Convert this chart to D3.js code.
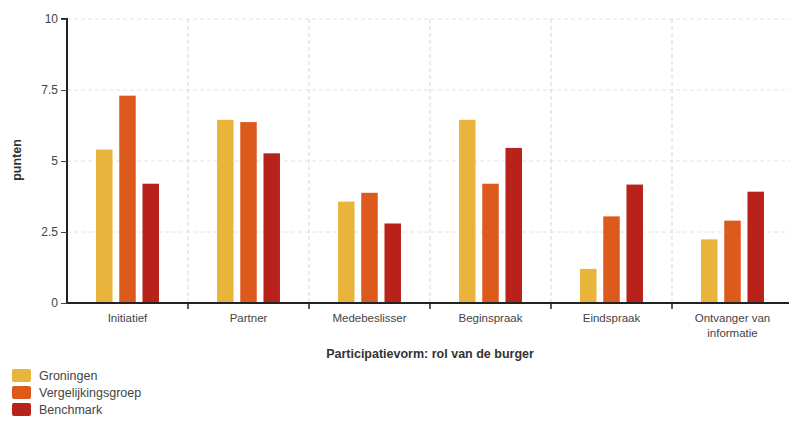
<!DOCTYPE html>
<html><head><meta charset="utf-8">
<script src="https://cdn.jsdelivr.net/npm/d3@7"></script>
<style>body{margin:0;background:#fff}svg{display:block;font-family:"Liberation Sans",Arial,sans-serif}</style>
</head><body><svg id="c" width="789" height="423"></svg>
<script>
const categories = ["Initiatief","Partner","Medebeslisser","Beginspraak","Eindspraak","Ontvanger van informatie"];
const seriesNames = ["Groningen","Vergelijkingsgroep","Benchmark"];
const groningen = [5.4, 6.45, 3.57, 6.45, 1.2, 2.24];
const vergelijkingsgroep = [7.3, 6.37, 3.88, 4.2, 3.05, 2.9];
const benchmark = [4.2, 5.27, 2.8, 5.46, 4.17, 3.92];
const yTicks = [0, 2.5, 5, 7.5, 10];
const yTickLabels = ["0","2.5","5","7.5","10"];
const colors = ["#e9b43c","#dd5a1d","#b8221b"];
const series = [groningen, vergelijkingsgroep, benchmark];

const svg = d3.select("#c");
const mLeft = 67, mRight = 793, mTop = 19, mBottom = 303;
const x = d3.scaleBand().domain(categories).range([mLeft, mRight]);
const xs = d3.scaleBand().domain(seriesNames).range([0, x.bandwidth()]).paddingInner(0.29).paddingOuter(1.25);
const y = d3.scaleLinear().domain([0, 10]).range([mBottom, mTop]);

// grid
svg.append("g").selectAll("line").data(yTicks.filter(d => d > 0)).join("line")
  .attr("x1", mLeft).attr("x2", mRight).attr("y1", d => y(d)).attr("y2", d => y(d))
  .attr("stroke", "#e2e2e2").attr("stroke-dasharray", "4,3").attr("stroke-width", 1);
svg.append("g").selectAll("line").data(categories.slice(1)).join("line")
  .attr("x1", d => x(d)).attr("x2", d => x(d)).attr("y1", mTop).attr("y2", mBottom)
  .attr("stroke", "#d6d6d6").attr("stroke-dasharray", "4,3").attr("stroke-width", 1);

// bars
series.forEach((vals, si) => {
  svg.append("g").selectAll("rect").data(vals).join("rect")
    .attr("x", (d, i) => x(categories[i]) + xs(seriesNames[si]))
    .attr("width", xs.bandwidth())
    .attr("y", d => y(d))
    .attr("height", d => y(0) - y(d))
    .attr("fill", colors[si]);
});

// y axis
const ya = svg.append("g").attr("transform", `translate(${mLeft},0)`)
  .call(d3.axisLeft(y).tickValues(yTicks).tickFormat((d, i) => yTickLabels[i]).tickSize(6).tickPadding(3));
ya.select(".domain").attr("stroke", "#222").attr("stroke-width", 2).attr("d", `M-6,${mTop}H0V${mBottom}`);
ya.selectAll(".tick line").attr("stroke", "#444");
ya.selectAll(".tick text").attr("fill", "#444").style("font-size", "12px");

// x axis
const xa = svg.append("g").attr("transform", `translate(0,${mBottom})`)
  .call(d3.axisBottom(x).tickSize(0).tickFormat(""));
xa.select(".domain").attr("stroke", "#222").attr("stroke-width", 2).attr("d", `M${mLeft},0H${mRight}`);
xa.append("g").selectAll("line").data(categories.slice(1)).join("line")
  .attr("x1", d => x(d)).attr("x2", d => x(d)).attr("y1", 0).attr("y2", 6).attr("stroke", "#222").attr("stroke-width", 1.5);
svg.append("g").selectAll("text").data(categories).join("text")
  .attr("text-anchor", "middle").attr("fill", "#444").style("font-size", "11.5px")
  .each(function(d) {
    const t = d3.select(this);
    const cx = x(d) + x.bandwidth() / 2;
    const lines = d === "Ontvanger van informatie" ? ["Ontvanger van", "informatie"] : [d];
    lines.forEach((l, i) => t.append("tspan").attr("x", cx).attr("y", 322 + i * 15).text(l));
  });

// axis titles
svg.append("text").attr("x", 430).attr("y", 358).attr("text-anchor", "middle")
  .attr("fill", "#333").style("font-size", "12.5px").style("font-weight", "bold")
  .text("Participatievorm: rol van de burger");
svg.append("text").attr("transform", "translate(21,160) rotate(-90)").attr("text-anchor", "middle")
  .attr("fill", "#333").style("font-size", "12.5px").style("font-weight", "bold").text("punten");

// legend
const lg = svg.append("g").selectAll("g").data(seriesNames).join("g")
  .attr("transform", (d, i) => `translate(12,${369 + i * 17})`);
lg.append("rect").attr("width", 19).attr("height", 13).attr("rx", 2).attr("fill", (d, i) => colors[i]);
lg.append("text").attr("x", 27).attr("y", 11).attr("fill", "#444").style("font-size", "12.5px").text(d => d);
</script></body></html>
